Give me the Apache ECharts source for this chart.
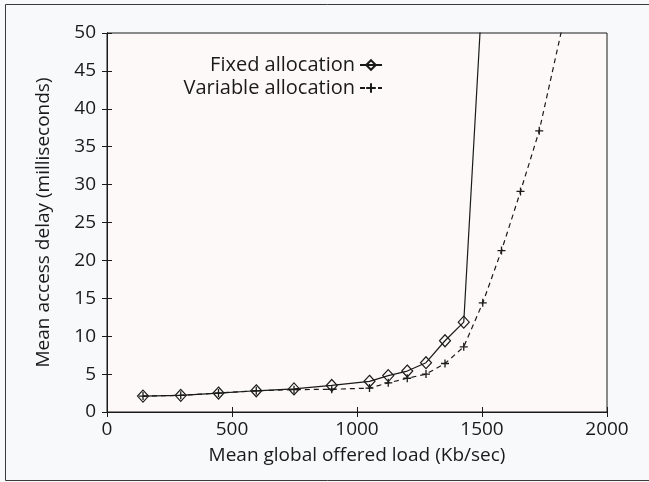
<!DOCTYPE html>
<html>
<head>
<meta charset="utf-8">
<script src="https://cdn.jsdelivr.net/npm/echarts@6/dist/echarts.min.js"></script>
<style>
  html, body { margin: 0; padding: 0; background: #f8f9fb; }
  #chart { width: 649px; height: 482px; }
</style>
</head>
<body>
<div id="chart"></div>
<script>
// Offered load (Kb/sec) at which each scheme was simulated
const fixedLoad = [144, 295, 446, 597, 748, 899, 1050, 1125, 1201, 1276, 1352, 1427, 1503];
const fixedDelay = [2.1, 2.2, 2.5, 2.8, 3.05, 3.5, 4.05, 4.8, 5.4, 6.5, 9.4, 11.85, 56.5];

const variableLoad = [144, 295, 446, 597, 748, 899, 1050, 1125, 1201, 1276, 1352, 1427, 1503, 1578, 1654, 1729, 1880];
const variableDelay = [2.1, 2.2, 2.5, 2.8, 2.95, 3.0, 3.15, 3.85, 4.45, 5.0, 6.4, 8.6, 14.4, 21.3, 29.1, 37.1, 59.5];

const seriesNames = ['Fixed allocation', 'Variable allocation'];
const xTicks = [0, 500, 1000, 1500, 2000];
const yTicks = [0, 5, 10, 15, 20, 25, 30, 35, 40, 45, 50];

const FONT = 'Open Sans';
const INK = '#1a1a1a';
const TICK_FS = 19;
const TITLE_FS = 19;
const KEY_FS = 20;

const pair = (xs, ys) => xs.map((x, i) => [x, ys[i]]);
const plusPath = 'path://M0,5L10,5M5,0L5,10';

const chart = echarts.init(document.getElementById('chart'), null, { renderer: 'canvas' });

const sharedX = { type: 'value', min: xTicks[0], max: xTicks[xTicks.length - 1], interval: 500 };
const sharedY = { type: 'value', min: yTicks[0], max: yTicks[yTicks.length - 1], interval: 5 };

const keyEntry = (name, top) => ({
  data: [name], orient: 'vertical', align: 'right',
  right: 261, top: top, itemWidth: 22, itemHeight: 12,
  textStyle: { fontFamily: FONT, fontSize: KEY_FS, color: INK },
  selectedMode: false
});

chart.setOption({
  backgroundColor: '#f8f9fb',
  animation: false,
  textStyle: { fontFamily: FONT },
  graphic: [{
    type: 'rect',
    shape: { x: 5.5, y: 4.5, width: 700, height: 476 },
    style: { fill: 'none', stroke: '#3a3a3a', lineWidth: 1 },
    z: -10, silent: true
  }],
  grid: {
    left: 107, right: 42, top: 33, bottom: 70,
    show: true, backgroundColor: '#fdf9f9', borderColor: INK, borderWidth: 1
  },
  legend: [keyEntry(seriesNames[0], 50), keyEntry(seriesNames[1], 73)],
  xAxis: [
    Object.assign({}, sharedX, {
      position: 'bottom',
      name: 'Mean global offered load (Kb/sec)',
      nameLocation: 'middle', nameGap: 34,
      nameTextStyle: { fontFamily: FONT, fontSize: TITLE_FS, color: INK },
      axisLine: { show: true, lineStyle: { color: INK } },
      axisTick: { show: true, inside: true, length: 5, lineStyle: { color: INK } },
      axisLabel: { margin: 8, fontFamily: FONT, fontSize: TICK_FS, color: INK, formatter: v => String(v) },
      splitLine: { show: false }
    }),
    Object.assign({}, sharedX, {
      position: 'top',
      axisLine: { show: true, lineStyle: { color: INK } },
      axisTick: { show: true, inside: true, length: 5, lineStyle: { color: INK } },
      axisLabel: { show: false },
      splitLine: { show: false }
    })
  ],
  yAxis: [
    Object.assign({}, sharedY, {
      position: 'left',
      name: 'Mean access delay (milliseconds)',
      nameLocation: 'middle', nameGap: 54,
      nameTextStyle: { fontFamily: FONT, fontSize: TITLE_FS, color: INK },
      axisLine: { show: true, lineStyle: { color: INK } },
      axisTick: { show: true, inside: true, length: 5, lineStyle: { color: INK } },
      axisLabel: { margin: 11, fontFamily: FONT, fontSize: TICK_FS, color: INK },
      splitLine: { show: false }
    }),
    Object.assign({}, sharedY, {
      position: 'right',
      axisLine: { show: true, lineStyle: { color: INK } },
      axisTick: { show: true, inside: true, length: 5, lineStyle: { color: INK } },
      axisLabel: { show: false },
      splitLine: { show: false }
    })
  ],
  series: [
    {
      name: seriesNames[0],
      type: 'line',
      data: pair(fixedLoad, fixedDelay),
      clip: true,
      symbol: 'diamond',
      symbolSize: [11, 12],
      showAllSymbol: true,
      lineStyle: { color: INK, width: 1.2, type: 'solid' },
      itemStyle: { color: 'none', borderColor: INK, borderWidth: 1.2 },
      z: 3
    },
    {
      name: seriesNames[1],
      type: 'line',
      data: pair(variableLoad, variableDelay),
      clip: true,
      symbol: plusPath,
      symbolSize: 8,
      showAllSymbol: true,
      lineStyle: { color: INK, width: 1.2, type: [5, 4] },
      itemStyle: { color: 'none', borderColor: INK, borderWidth: 1.3 },
      z: 2
    }
  ]
});
</script>
</body>
</html>
